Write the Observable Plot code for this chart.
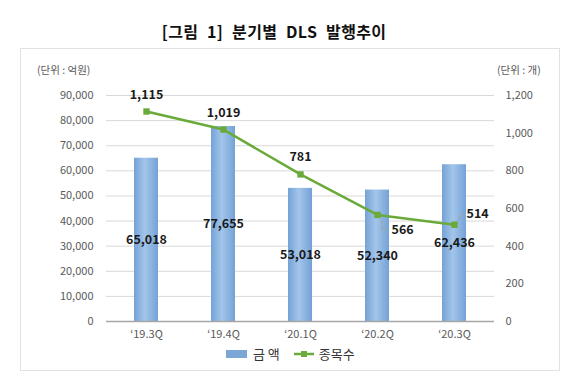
<!DOCTYPE html>
<html><head><meta charset="utf-8">
<script src="https://cdn.jsdelivr.net/npm/d3@7"></script>
<script src="https://cdn.jsdelivr.net/npm/@observablehq/plot@0.6"></script>
<style>
body{margin:0;background:#fff;font-family:"Noto Sans CJK KR","Noto Sans",sans-serif;}
#wrap{position:relative;width:580px;height:379px;overflow:hidden;background:#fff;}
#title{position:absolute;left:0;width:548px;top:20px;text-align:center;font-size:16px;font-weight:bold;color:#111;line-height:22px;word-spacing:5px;letter-spacing:0.3px;}
#frame{position:absolute;left:20px;top:48px;width:540px;height:323px;border:1px solid #e2e2e2;box-sizing:border-box;}
#chart{position:absolute;left:0;top:48px;}
.unit{position:absolute;top:62px;font-size:10.5px;color:#595959;}
#legend{position:absolute;top:344px;left:226px;font-size:13px;color:#333;display:flex;align-items:center;}
</style></head>
<body>
<div id="wrap">
<div id="frame"></div>
<div id="title">[그림 1] 분기별 DLS 발행추이</div>
<div class="unit" style="left:37px">(단위 : 억원)</div>
<div class="unit" style="left:497px">(단위 : 개)</div>
<div id="chart"></div>
<div id="legend">
  <svg width="22" height="10"><rect x="0" y="1" width="21" height="8" fill="#7ba6d6"/></svg>
  <span style="margin-left:5px">금 액</span>
  <svg width="22" height="10" style="margin-left:14px"><line x1="0" y1="5" x2="20" y2="5" stroke="#6aaa3a" stroke-width="2.5"/><rect x="7" y="2" width="6" height="6" fill="#6aaa3a"/></svg>
  <span style="margin-left:3px">종목수</span>
</div>
</div>
<script>
const quarters = ["‘19.3Q", "‘19.4Q", "‘20.1Q", "‘20.2Q", "‘20.3Q"];
const amounts = [65018, 77655, 53018, 52340, 62436];
const counts = [1115, 1019, 781, 566, 514];
const leftTicks = [0, 10000, 20000, 30000, 40000, 50000, 60000, 70000, 80000, 90000];
const rightTicks = [0, 200, 400, 600, 800, 1000, 1200];

const ratio = 90000 / 1200;
const rows = quarters.map((q, i) => ({q, amount: amounts[i], count: counts[i], cy: counts[i] * ratio, i}));
const fmt = d3.format(",");
const font = '"Noto Sans CJK KR","Noto Sans",sans-serif';

const defs = () => {
  const d = d3.create("svg:defs");
  const g = d.append("linearGradient").attr("id", "barGrad").attr("x1", "0").attr("x2", "1").attr("y1", "0").attr("y2", "0");
  g.append("stop").attr("offset", "0%").attr("stop-color", "#74a2d6");
  g.append("stop").attr("offset", "45%").attr("stop-color", "#a3c5ea");
  g.append("stop").attr("offset", "100%").attr("stop-color", "#74a2d6");
  return d.node();
};

const leaders = (index, scales) => {
  const x = scales.x, y = scales.y, bw = x.bandwidth();
  const g = d3.create("svg:g").attr("fill", "none").attr("stroke", "#a0a0a0").attr("stroke-width", 0.8);
  const p3 = [x(quarters[3]) + bw / 2, y(counts[3] * ratio)];
  g.append("path").attr("d", `M${p3[0] + 5},${p3[1] + 4}L${p3[0] + 5},${p3[1] + 15}L${p3[0] + 12},${p3[1] + 15}`);
  const p4 = [x(quarters[4]) + bw / 2, y(counts[4] * ratio)];
  g.append("path").attr("d", `M${p4[0] + 4},${p4[1] - 4}L${p4[0] + 8},${p4[1] - 10}L${p4[0] + 11},${p4[1] - 10}`);
  return g.node();
};

const chart = Plot.plot({
  width: 580,
  height: 295,
  marginTop: 47,
  marginBottom: 22,
  marginLeft: 106,
  marginRight: 86,
  style: {fontFamily: font, background: "transparent"},
  x: {domain: quarters, paddingInner: 0.69, paddingOuter: 0.345, axis: null},
  y: {domain: [0, 90000], axis: null},
  marks: [
    defs,
    Plot.gridY(leftTicks, {stroke: "#d9d9d9", strokeOpacity: 1, strokeWidth: 1}),
    Plot.barY(rows, {x: "q", y: "amount", fill: "url(#barGrad)"}),
    Plot.ruleY([0], {stroke: "#a6a6a6", strokeWidth: 1.5}),
    Plot.axisY({ticks: leftTicks, tickSize: 0, tickPadding: 13, tickFormat: fmt, fontSize: 11, fill: "#595959", label: null}),
    Plot.axisY({anchor: "right", ticks: rightTicks.map(v => v * ratio), tickSize: 0, tickPadding: 11, tickFormat: d => fmt(Math.round(d / ratio)), fontSize: 11, fill: "#595959", label: null}),
    Plot.axisX({tickSize: 0, tickPadding: 9, fontSize: 11, fill: "#595959", label: null}),
    Plot.text(rows, {x: "q", y: d => d.amount / 2, text: d => fmt(d.amount), fontSize: 12.5, fontWeight: "bold", fill: "#1a1a1a"}),
    Plot.line(rows, {x: "q", y: "cy", stroke: "#6aaa3a", strokeWidth: 2.5}),
    Plot.dot(rows, {x: "q", y: "cy", symbol: "square", r: 3.6, fill: "#6aaa3a", stroke: "none"}),
    leaders,
    Plot.text(rows.filter(d => d.i < 3), {x: "q", y: "cy", text: d => fmt(d.count), dy: -17, fontSize: 12.5, fontWeight: "bold", fill: "#1a1a1a"}),
    Plot.text(rows.filter(d => d.i === 3), {x: "q", y: "cy", text: d => fmt(d.count), dx: 14, dy: 15, textAnchor: "start", fontSize: 12.5, fontWeight: "bold", fill: "#1a1a1a"}),
    Plot.text(rows.filter(d => d.i === 4), {x: "q", y: "cy", text: d => fmt(d.count), dx: 12, dy: -11, textAnchor: "start", fontSize: 12.5, fontWeight: "bold", fill: "#1a1a1a"})
  ]
});
document.getElementById("chart").appendChild(chart);
</script>
</body></html>
